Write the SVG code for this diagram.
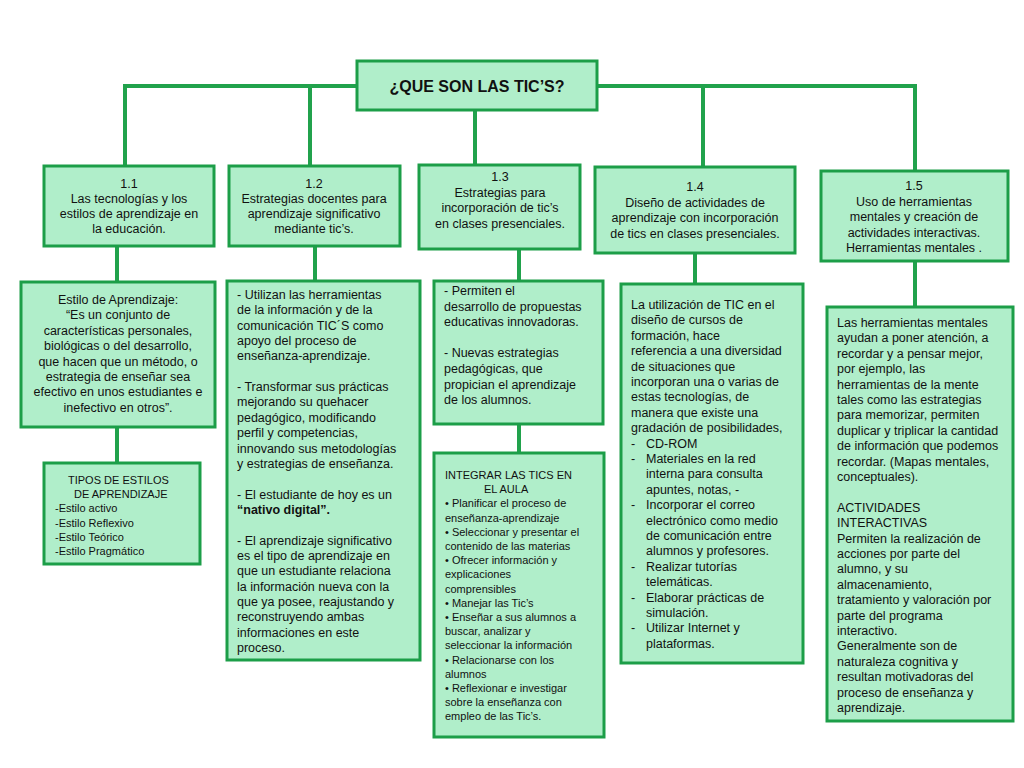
<svg xmlns="http://www.w3.org/2000/svg" width="1024" height="768" viewBox="0 0 1024 768">
<style>
.b{fill:#b0eeca;stroke:#1c9e48;stroke-width:3}
.c{fill:none;stroke:#21a24c;stroke-width:4}
text{font-family:"Liberation Sans",Arial,sans-serif;font-size:12.5px;fill:#111}
.m{text-anchor:middle}
.s{font-size:11px}
</style>
<rect width="1024" height="768" fill="#fff"/>
<g id="connectors">
<path class="c" d="M125,170V86H915V175M310,86V166M703,86V167M475,110V165M117,246V282M117,427V463M315,246V281M519,249V281M519,424V453M695,253V284M915,261V307"/>
</g>
<g id="root"><rect class="b" x="357" y="61" width="240" height="49"/><text class="m" x="477" y="92" style="font-size:16px;font-weight:bold">¿QUE  SON LAS TIC’S?</text></g>
<g id="n11"><rect class="b" x="44" y="166" width="170" height="80"/><text class="m" x="129" y="188"><tspan x="129">1.1</tspan><tspan x="129" dy="15">Las tecnologías y los</tspan><tspan x="129" dy="15">estilos de aprendizaje en</tspan><tspan x="129" dy="15">la educación.</tspan></text></g>
<g id="n12"><rect class="b" x="229" y="166" width="171" height="80"/><text class="m" x="314" y="188"><tspan x="314">1.2</tspan><tspan x="314" dy="15">Estrategias docentes para</tspan><tspan x="314" dy="15">aprendizaje significativo</tspan><tspan x="314" dy="15">mediante  tic’s.</tspan></text></g>
<g id="n13"><rect class="b" x="419" y="165" width="161" height="84"/><text class="m" x="500" y="181"><tspan x="500">1.3</tspan><tspan x="500" dy="15.5">Estrategias para</tspan><tspan x="500" dy="15.5">incorporación de tic’s</tspan><tspan x="500" dy="15.5">en clases presenciales.</tspan></text></g>
<g id="n14"><rect class="b" x="595" y="167" width="200" height="86"/><text class="m" x="695" y="191"><tspan x="695">1.4</tspan><tspan x="695" dy="15.5">Diseño de actividades de</tspan><tspan x="695" dy="15.5">aprendizaje con incorporación</tspan><tspan x="695" dy="15.5">de tics en clases presenciales.</tspan></text></g>
<g id="n15"><rect class="b" x="821" y="171" width="187" height="90"/><text class="m" x="914" y="190"><tspan x="914">1.5</tspan><tspan x="914" dy="15.5">Uso de herramientas</tspan><tspan x="914" dy="15.5">mentales y creación de</tspan><tspan x="914" dy="15.5">actividades interactivas.</tspan><tspan x="914" dy="15.5">Herramientas mentales .</tspan></text></g>
<g id="estilo"><rect class="b" x="21" y="282" width="194" height="145"/><text class="m" x="118" y="304"><tspan x="118">Estilo de Aprendizaje:</tspan><tspan x="118" dy="15.4">“Es un conjunto de</tspan><tspan x="118" dy="15.4">características personales,</tspan><tspan x="118" dy="15.4">biológicas o del desarrollo,</tspan><tspan x="118" dy="15.4">que hacen que un método, o</tspan><tspan x="118" dy="15.4">estrategia de enseñar sea</tspan><tspan x="118" dy="15.4">efectivo en unos estudiantes e</tspan><tspan x="118" dy="15.4">inefectivo en otros”.</tspan></text></g>
<g id="tipos"><rect class="b" x="44" y="463" width="156" height="101"/><text class="s" x="55" y="484"><tspan x="68">TIPOS DE ESTILOS</tspan><tspan x="74" dy="14.2">DE APRENDIZAJE</tspan><tspan x="55" dy="14.2">-Estilo activo</tspan><tspan x="55" dy="14.2">-Estilo Reflexivo</tspan><tspan x="55" dy="14.2">-Estilo Teórico</tspan><tspan x="55" dy="14.2">-Estilo Pragmático</tspan></text></g>
<g id="d12"><rect class="b" x="227" y="281" width="193" height="379"/><text x="237" y="299"><tspan x="237">- Utilizan las herramientas</tspan><tspan x="237" dy="15.35">de la información y de la</tspan><tspan x="237" dy="15.35">comunicación TIC´S como</tspan><tspan x="237" dy="15.35">apoyo del proceso de</tspan><tspan x="237" dy="15.35">enseñanza-aprendizaje.</tspan><tspan x="237" dy="30.7">- Transformar sus prácticas</tspan><tspan x="237" dy="15.35">mejorando su quehacer</tspan><tspan x="237" dy="15.35">pedagógico, modificando</tspan><tspan x="237" dy="15.35">perfil y competencias,</tspan><tspan x="237" dy="15.35">innovando sus metodologías</tspan><tspan x="237" dy="15.35">y estrategias de enseñanza.</tspan><tspan x="237" dy="30.7">- El estudiante de hoy es un</tspan><tspan x="237" dy="15.35" font-weight="bold">“nativo digital”.</tspan><tspan x="237" dy="30.7">- El aprendizaje significativo</tspan><tspan x="237" dy="15.35">es el tipo de aprendizaje en</tspan><tspan x="237" dy="15.35">que un estudiante relaciona</tspan><tspan x="237" dy="15.35">la información nueva con la</tspan><tspan x="237" dy="15.35">que ya posee, reajustando y</tspan><tspan x="237" dy="15.35">reconstruyendo ambas</tspan><tspan x="237" dy="15.35">informaciones en este</tspan><tspan x="237" dy="15.35">proceso.</tspan></text></g>
<g id="d13"><rect class="b" x="434" y="281" width="169" height="143"/><text x="444" y="295"><tspan x="444">-   Permiten el</tspan><tspan x="444" dy="15.6">desarrollo de propuestas</tspan><tspan x="444" dy="15.6">educativas innovadoras.</tspan><tspan x="444" dy="31.2">- Nuevas estrategias</tspan><tspan x="444" dy="15.6">pedagógicas, que</tspan><tspan x="444" dy="15.6">propician el aprendizaje</tspan><tspan x="444" dy="15.6">de los alumnos.</tspan></text></g>
<g id="integrar"><rect class="b" x="434" y="453" width="170" height="284"/><text class="s" x="445" y="479"><tspan x="445">INTEGRAR LAS TICS EN</tspan><tspan x="484" dy="14.2">EL AULA</tspan><tspan x="445" dy="14.2">• Planificar el proceso de</tspan><tspan x="445" dy="14.2">enseñanza-aprendizaje</tspan><tspan x="445" dy="14.2">• Seleccionar y presentar el</tspan><tspan x="445" dy="14.2">contenido de las materias</tspan><tspan x="445" dy="14.2">• Ofrecer información y</tspan><tspan x="445" dy="14.2">explicaciones</tspan><tspan x="445" dy="14.2">comprensibles</tspan><tspan x="445" dy="14.2">• Manejar las Tic’s</tspan><tspan x="445" dy="14.2">• Enseñar a sus alumnos a</tspan><tspan x="445" dy="14.2">buscar, analizar y</tspan><tspan x="445" dy="14.2">seleccionar la información</tspan><tspan x="445" dy="14.2">• Relacionarse con los</tspan><tspan x="445" dy="14.2">alumnos</tspan><tspan x="445" dy="14.2">• Reflexionar e investigar</tspan><tspan x="445" dy="14.2">sobre la enseñanza con</tspan><tspan x="445" dy="14.2">empleo de las Tic’s.</tspan></text></g>
<g id="d14"><rect class="b" x="621" y="284" width="182" height="379"/><text x="631" y="309"><tspan x="631">La utilización de TIC en el</tspan><tspan x="631" dy="15.4">diseño de cursos de</tspan><tspan x="631" dy="15.4">formación, hace</tspan><tspan x="631" dy="15.4">referencia  a una diversidad</tspan><tspan x="631" dy="15.4">de situaciones que</tspan><tspan x="631" dy="15.4">incorporan una o varias de</tspan><tspan x="631" dy="15.4">estas tecnologías, de</tspan><tspan x="631" dy="15.4">manera que existe una</tspan><tspan x="631" dy="15.4">gradación de posibilidades,</tspan><tspan x="631" dy="15.4">-</tspan><tspan x="646">CD-ROM</tspan><tspan x="631" dy="15.4">-</tspan><tspan x="646">Materiales en la red</tspan><tspan x="646" dy="15.4">interna  para consulta</tspan><tspan x="646" dy="15.4">apuntes, notas, -</tspan><tspan x="631" dy="15.4">-</tspan><tspan x="646">Incorporar el correo</tspan><tspan x="646" dy="15.4">electrónico como medio</tspan><tspan x="646" dy="15.4">de comunicación entre</tspan><tspan x="646" dy="15.4">alumnos y profesores.</tspan><tspan x="631" dy="15.4">-</tspan><tspan x="646">Realizar tutorías</tspan><tspan x="646" dy="15.4">telemáticas.</tspan><tspan x="631" dy="15.4">-</tspan><tspan x="646">Elaborar prácticas de</tspan><tspan x="646" dy="15.4">simulación.</tspan><tspan x="631" dy="15.4">-</tspan><tspan x="646">Utilizar Internet y</tspan><tspan x="646" dy="15.4">plataformas.</tspan></text></g>
<g id="d15"><rect class="b" x="827" y="307" width="186" height="414"/><text x="837" y="327"><tspan x="837">Las herramientas mentales</tspan><tspan x="837" dy="15.4">ayudan a poner atención, a</tspan><tspan x="837" dy="15.4">recordar y a pensar mejor,</tspan><tspan x="837" dy="15.4">por ejemplo, las</tspan><tspan x="837" dy="15.4">herramientas de la mente</tspan><tspan x="837" dy="15.4">tales como las estrategias</tspan><tspan x="837" dy="15.4">para memorizar, permiten</tspan><tspan x="837" dy="15.4">duplicar y triplicar la cantidad</tspan><tspan x="837" dy="15.4">de información que podemos</tspan><tspan x="837" dy="15.4">recordar. (Mapas mentales,</tspan><tspan x="837" dy="15.4">conceptuales).</tspan><tspan x="837" dy="30.8">ACTIVIDADES</tspan><tspan x="837" dy="15.4">INTERACTIVAS</tspan><tspan x="837" dy="15.4">Permiten la realización de</tspan><tspan x="837" dy="15.4">acciones por parte del</tspan><tspan x="837" dy="15.4">alumno, y su</tspan><tspan x="837" dy="15.4">almacenamiento,</tspan><tspan x="837" dy="15.4">tratamiento y valoración por</tspan><tspan x="837" dy="15.4">parte del programa</tspan><tspan x="837" dy="15.4">interactivo.</tspan><tspan x="837" dy="15.4">Generalmente son de</tspan><tspan x="837" dy="15.4">naturaleza cognitiva y</tspan><tspan x="837" dy="15.4">resultan motivadoras del</tspan><tspan x="837" dy="15.4">proceso de enseñanza y</tspan><tspan x="837" dy="15.4">aprendizaje.</tspan></text></g>
</svg>
